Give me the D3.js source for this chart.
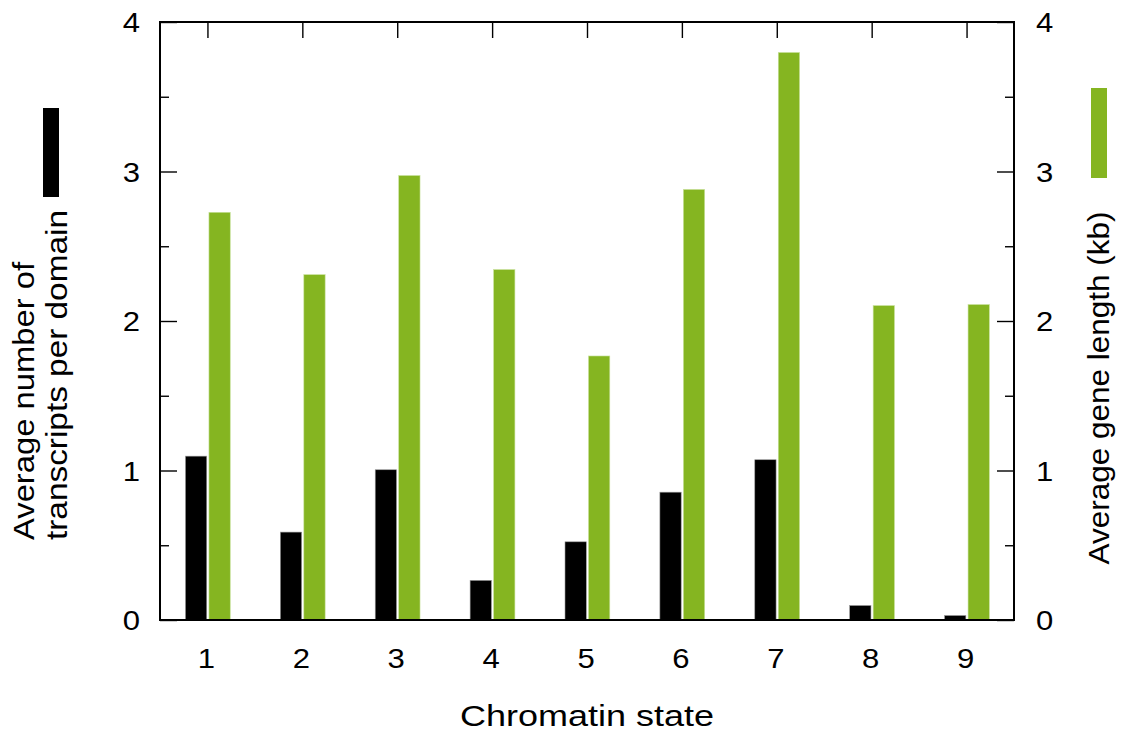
<!DOCTYPE html>
<html>
<head>
<meta charset="utf-8">
<script src="https://cdn.jsdelivr.net/npm/d3@7"></script>
<style>
  body { margin: 0; background: #fff; }
  svg { display: block; font-family: "Liberation Sans", Arial, sans-serif; }
</style>
</head>
<body>
<div id="chart"></div>
<script>
const width = 1122;
const height = 731;

// data
const states = [1, 2, 3, 4, 5, 6, 7, 8, 9];
const transcripts = [1.096, 0.588, 1.005, 0.265, 0.523, 0.855, 1.072, 0.097, 0.03];
const gene_length = [2.727, 2.31, 2.973, 2.344, 1.766, 2.88, 3.796, 2.103, 2.11];
const y_ticks = [0, 1, 2, 3, 4];
const y_minor = [0.5, 1.5, 2.5, 3.5];

const black = "#000000";
const green = "#85b521";

const plot = {left: 160, right: 1014, top: 22, bottom: 620};

const x = d3.scaleLinear().domain([0.5, 9.5]).range([plot.left, plot.right]);
const yL = d3.scaleLinear().domain([0, 4]).range([plot.bottom, plot.top]);
const yR = d3.scaleLinear().domain([0, 4]).range([plot.bottom, plot.top]);

const svg = d3.create("svg")
    .attr("width", width)
    .attr("height", height)
    .attr("viewBox", [0, 0, width, height]);

// text in the source is a bit wide, stretch it along its run
function label(g, tx, ty, str, size, sx, anchor, rot) {
    return g.append("text")
        .attr("transform", `translate(${tx},${ty})${rot ? " rotate(-90)" : ""} scale(${sx},1)`)
        .attr("text-anchor", anchor)
        .attr("font-size", size)
        .text(str);
}

// bars
svg.append("g")
    .selectAll("rect")
    .data(states)
    .join("rect")
    .attr("x", d => x(d) - 22)
    .attr("width", 21.3)
    .attr("y", (d, i) => yL(transcripts[i]))
    .attr("height", (d, i) => yL(0) - yL(transcripts[i]))
    .attr("fill", black)
    .attr("stroke", "#9a9a9a")
    .attr("stroke-width", 0.6);

svg.append("g")
    .selectAll("rect")
    .data(states)
    .join("rect")
    .attr("x", d => x(d) + 1.5)
    .attr("width", 21.3)
    .attr("y", (d, i) => yR(gene_length[i]))
    .attr("height", (d, i) => yR(0) - yR(gene_length[i]))
    .attr("fill", green)
    .attr("stroke", "#c8e29c")
    .attr("stroke-width", 0.6);

// border
svg.append("rect")
    .attr("x", plot.left)
    .attr("y", plot.top)
    .attr("width", plot.right - plot.left)
    .attr("height", plot.bottom - plot.top)
    .attr("fill", "none")
    .attr("stroke", "#000")
    .attr("stroke-width", 2);

// left axis (ticks inward)
svg.append("g")
    .attr("transform", `translate(${plot.left},0)`)
    .call(d3.axisRight(yL).tickValues(y_ticks).tickSize(17).tickFormat(""))
    .call(g => g.select(".domain").remove())
    .selectAll("line").attr("stroke-width", 1.4);

svg.append("g")
    .attr("transform", `translate(${plot.left},0)`)
    .call(d3.axisRight(yL).tickValues(y_minor).tickSize(9).tickFormat(""))
    .call(g => g.select(".domain").remove())
    .selectAll("line").attr("stroke-width", 1.4);

const left_labels = svg.append("g").attr("dominant-baseline", "middle");
y_ticks.forEach(d => label(left_labels, plot.left - 20, yL(d) + 3, d, 27, 1.15, "end"));

// right axis (ticks inward)
svg.append("g")
    .attr("transform", `translate(${plot.right},0)`)
    .call(d3.axisLeft(yR).tickValues(y_ticks).tickSize(17).tickFormat(""))
    .call(g => g.select(".domain").remove())
    .selectAll("line").attr("stroke-width", 1.4);

svg.append("g")
    .attr("transform", `translate(${plot.right},0)`)
    .call(d3.axisLeft(yR).tickValues(y_minor).tickSize(9).tickFormat(""))
    .call(g => g.select(".domain").remove())
    .selectAll("line").attr("stroke-width", 1.4);

const right_labels = svg.append("g").attr("dominant-baseline", "middle");
y_ticks.forEach(d => label(right_labels, plot.right + 22, yR(d) + 3, d, 27, 1.15, "start"));

// x ticks mirrored on top
svg.append("g")
    .attr("transform", `translate(0,${plot.top})`)
    .call(d3.axisBottom(x).tickValues(states).tickSize(16).tickFormat(""))
    .call(g => g.select(".domain").remove())
    .selectAll("line").attr("stroke-width", 1.4);

const x_labels = svg.append("g");
states.forEach(d => label(x_labels, x(d) - 1, 668, d, 27, 1.15, "middle"));

// axis titles
label(svg, 587, 726, "Chromatin state", 30, 1.2, "middle");

// two-line left title, lines start at the same place
label(svg, 34, 540, "Average number of", 29, 1.13, "start", true);
label(svg, 67, 540, "transcripts per domain", 29, 1.15, "start", true);

label(svg, 1109, 388, "Average gene length (kb)", 30, 1.05, "middle", true);

// legend keys
svg.append("rect")
    .attr("x", 43).attr("y", 108).attr("width", 16).attr("height", 89)
    .attr("fill", black);
svg.append("rect")
    .attr("x", 1091).attr("y", 88).attr("width", 16).attr("height", 90)
    .attr("fill", green);

document.getElementById("chart").append(svg.node());
</script>
</body>
</html>
